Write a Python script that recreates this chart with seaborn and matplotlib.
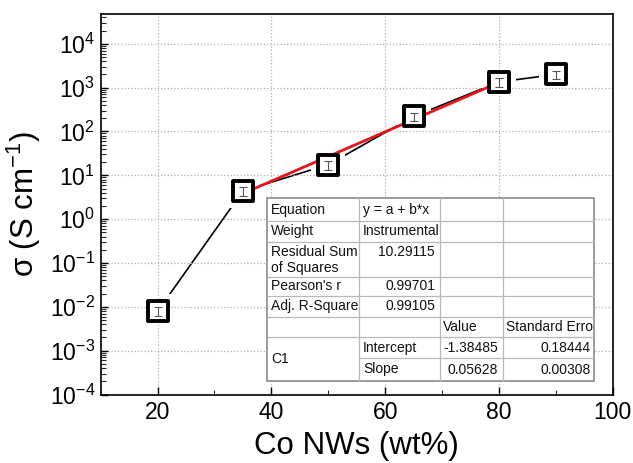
import numpy as np
import pandas as pd
import matplotlib
matplotlib.use("Agg")
import matplotlib.pyplot as plt
import seaborn as sns
from matplotlib.patches import Rectangle
from matplotlib.lines import Line2D
from matplotlib.ticker import LogLocator, FixedLocator, NullFormatter

# ---------------- data ----------------
co_wt = [20, 35, 50, 65, 80, 90]
sigma = [0.0079, 4.4, 17.5, 220, 1350, 2000]
sigma_err = [0.0018, 1.0, 4.0, 50, 300, 450]

fit_intercept = -1.38485
fit_slope = 0.05628
fit_x_range = [35, 80]

x_ticks = [20, 40, 60, 80, 100]
y_decades = [-4, -3, -2, -1, 0, 1, 2, 3, 4]

tbl_col1 = ["Equation", "Weight", "Residual Sum\nof Squares", "Pearson's r", "Adj. R-Square", "", "C1"]
tbl_col2 = ["y = a + b*x", "Instrumental", "10.29115", "0.99701", "0.99105", "", "Intercept", "Slope"]
tbl_value = ["Value", "-1.38485", "0.05628"]
tbl_stderr = ["Standard Erro", "0.18444", "0.00308"]

# ---------------- style ----------------
sns.set_theme(style="ticks")
plt.rcParams['font.family'] = ['Liberation Sans', 'DejaVu Sans']
plt.rcParams['mathtext.default'] = 'regular'

W, H = 633, 463
fig = plt.figure(figsize=(W / 100, H / 100), dpi=100)
ax_l, ax_r, ax_t, ax_b = 100.7, 612.7, 14, 394.5
ax = fig.add_axes([ax_l / W, 1 - ax_b / H, (ax_r - ax_l) / W, (ax_b - ax_t) / H])

df = pd.DataFrame({"x": co_wt, "y": sigma, "err": sigma_err})

# connecting black line
sns.lineplot(data=df, x="x", y="y", color="black", linewidth=1.2, ax=ax, zorder=1)
# white halo around markers (creates gaps in the line)
sns.scatterplot(data=df, x="x", y="y", marker="s", s=620, color="white",
                edgecolor="white", linewidth=0, ax=ax, zorder=1.2)
# fit line
fx = np.linspace(fit_x_range[0], fit_x_range[1], 50)
fy = 10 ** (fit_intercept + fit_slope * fx)
sns.lineplot(x=fx, y=fy, color="#e8141b", linewidth=2.0, ax=ax, zorder=2.5)
# markers
sns.scatterplot(data=df, x="x", y="y", marker="s", s=225, color="white",
                edgecolor="black", linewidth=2.8, ax=ax, zorder=3)
# small error bars inside markers
ax.errorbar(df["x"], df["y"], yerr=df["err"], fmt="none", ecolor="#555555",
            elinewidth=0.8, capsize=3, capthick=0.8, zorder=3.5)

ax.set_yscale("log")
ax.set_xlim(10, 100)
ax.set_ylim(1e-4, 10 ** 4.68)

ax.xaxis.set_major_locator(FixedLocator(x_ticks))
ax.xaxis.set_minor_locator(FixedLocator([30, 50, 70, 90]))
ax.yaxis.set_major_locator(FixedLocator([10.0 ** d for d in y_decades]))
ax.yaxis.set_minor_locator(LogLocator(base=10, subs=np.arange(2, 10), numticks=20))
ax.yaxis.set_minor_formatter(NullFormatter())
ax.set_yticklabels([r"$10^{%d}$" % d for d in y_decades])

ax.tick_params(axis="both", which="major", direction="in", length=6, width=1,
               labelsize=16.5, colors="black", pad=5)
ax.tick_params(axis="both", which="minor", direction="in", length=3.5, width=0.8)
ax.tick_params(axis="y", which="major", length=5, pad=4)
for s in ax.spines.values():
    s.set_visible(True)
    s.set_linewidth(1.2)
    s.set_color("black")

ax.set_axisbelow("line")
ax.grid(True, which="major", linestyle=":", color="#b0b0b0", linewidth=0.9)
ax.grid(False, which="minor")

ax.set_xlabel("Co NWs (wt%)", fontsize=22.5, color="black", labelpad=5)
ax.set_ylabel(r"σ (S cm$^{-1}$)", fontsize=22.5, color="black", labelpad=5)
if ax.legend_:
    ax.legend_.remove()

# ---------------- table (Origin-style fit report) ----------------
def P(px, py):
    return (px / W, 1 - py / H)

cols = [267.3, 359, 440, 503.3, 594]
rows = [198.3, 221, 241.7, 277.3, 295.5, 316.7, 337, 358.3, 380.7]
inner = "#b8b8b8"
outer = "#8a8a8a"
fs = 10.0

bx, by = P(cols[0], rows[-1])
fig.add_artist(Rectangle((bx, by), (cols[-1] - cols[0]) / W, (rows[-1] - rows[0]) / H,
                         transform=fig.transFigure, facecolor="white",
                         edgecolor=outer, linewidth=1.2, zorder=5))

def hline(y, x0, x1):
    a, b = P(x0, y), P(x1, y)
    fig.add_artist(Line2D([a[0], b[0]], [a[1], b[1]], transform=fig.transFigure,
                          color=inner, linewidth=0.9, zorder=5.5))

def vline(x, y0, y1):
    a, b = P(x, y0), P(x, y1)
    fig.add_artist(Line2D([a[0], b[0]], [a[1], b[1]], transform=fig.transFigure,
                          color=inner, linewidth=0.9, zorder=5.5))

for i, y in enumerate(rows[1:-1], start=1):
    if i == 7:
        hline(y, cols[1], cols[-1])
    else:
        hline(y, cols[0], cols[-1])
for x in cols[1:-1]:
    vline(x, rows[0], rows[-1])

def txt(px, py, s, ha="left", va="center", ls=1.0):
    x, y = P(px, py)
    fig.text(x, y, s, ha=ha, va=va, fontsize=fs, color="#111111",
             transform=fig.transFigure, zorder=6, linespacing=ls)

def mid(i):
    return (rows[i] + rows[i + 1]) / 2

# column 1
for i in range(5):
    if i == 2:
        txt(cols[0] + 4, rows[2] + 3, tbl_col1[i], va="top", ls=1.2)
    else:
        txt(cols[0] + 4, mid(i), tbl_col1[i])
txt(cols[0] + 4, (rows[6] + rows[8]) / 2, tbl_col1[6])

# column 2
txt(cols[1] + 4, mid(0), tbl_col2[0])
txt(cols[1] + 4, mid(1), tbl_col2[1])
txt(cols[2] - 5, rows[2] + 3, tbl_col2[2], ha="right", va="top")
txt(cols[2] - 5, mid(3), tbl_col2[3], ha="right")
txt(cols[2] - 5, mid(4), tbl_col2[4], ha="right")
txt(cols[1] + 4, mid(6), tbl_col2[6])
txt(cols[1] + 4, mid(7), tbl_col2[7])

# value / standard error columns
txt(cols[2] + 3, mid(5), tbl_value[0])
txt(cols[3] - 5, mid(6), tbl_value[1], ha="right")
txt(cols[3] - 5, mid(7), tbl_value[2], ha="right")
txt(cols[3] + 3, mid(5), tbl_stderr[0])
txt(cols[4] - 3, mid(6), tbl_stderr[1], ha="right")
txt(cols[4] - 3, mid(7), tbl_stderr[2], ha="right")

fig.savefig("out.png", dpi=100, facecolor="white")
